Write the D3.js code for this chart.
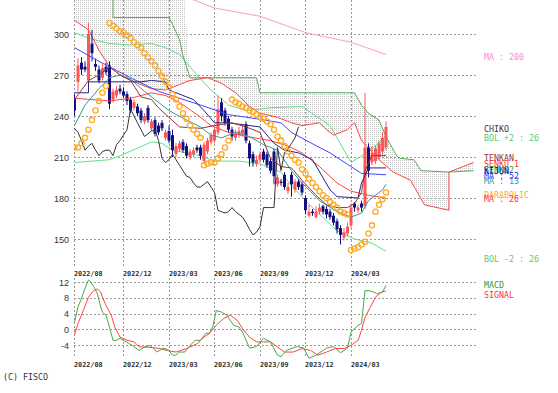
<!DOCTYPE html>
<html><head><meta charset="utf-8">
<script src="https://cdn.jsdelivr.net/npm/d3@7"></script>
<style>body{margin:0;background:#fff}svg{display:block}</style>
</head><body><svg id="c" width="558" height="393"></svg>
<script>
// ---- weekly candles ----
const openP  = [253,265,279,276,266,293,278,274,268,276, 277,252,255,260,258,256,252,246,247,244, 236,246,231,237,233,235,224,229,226,212, 216,221,218,210,212,217,217,207,214,221, 222,228,250,244,238,230,224,226,227,234, 220,212,205,208,214,212,207,214,190,192, 197,185,197,186,192,190,180,167,170,166, 170,174,172,170,167,163,158,151,154,160, 176,171,176,174,217,206,207,210,214,217];
const highP  = [256,282,283,280,308,303,282,277,278,279, 280,260,262,263,261,258,254,252,249,246, 242,248,238,239,235,237,230,233,230,220, 222,223,220,216,217,219,219,221,224,228, 232,255,253,246,240,232,230,232,234,236, 222,214,211,214,216,214,209,216,197,194, 199,191,199,194,194,192,182,175,172,174, 176,175,174,172,169,165,160,158,162,176, 177,175,178,257,220,218,218,222,228,236];
const lowP   = [240,258,270,272,262,280,273,264,266,270, 245,250,253,256,253,248,242,244,240,235, 234,235,229,225,226,229,222,220,210,210, 214,213,209,208,210,213,208,205,212,219, 220,226,236,233,228,222,222,224,225,220, 203,203,203,206,206,202,198,190,188,189, 186,183,181,184,186,182,168,166,167,165, 168,168,165,164,160,154,146,149,152,158, 170,169,170,172,195,204,205,208,212,215];
const closeP = [244,277,274,274,300,286,276,266,275,272, 249,258,259,258,255,251,244,250,242,237, 240,237,236,227,228,231,228,222,215,218, 220,215,211,214,215,215,211,219,222,226, 230,245,240,235,230,225,227,229,230,222, 209,206,208,212,208,204,200,196,195,191, 188,188,190,192,188,184,171,170,169,170, 173,170,168,166,162,157,153,155,159,173, 173,173,173,217,200,213,216,220,224,232];
const chikoShift = 25;

// ---- indicator lines: [week, value] ----
const ma200 = [[28,330],[33,326],[40,319],[53,313],[66,301],[79,294],[89,285]];
const ma52  = [[0,290],[7,280],[16,268],[24,258],[36,248],[44,241],[52,238],[59,235],[62,228],[67,221],[73,213],[79,203],[82,198],[89,197]];
const ma26  = [[0,253],[10,251],[16,253],[22,257],[26,255],[30,250],[35,241],[39,233],[44,228],[49,225],[56,222],[61,218],[65,213],[70,203],[75,191],[79,185],[84,182],[89,180]];
const ma13  = [[0,233],[3,248],[7,260],[10,268],[13,270],[16,267],[20,258],[24,250],[27,244],[32,237],[36,232],[39,226],[42,224],[46,228],[50,225],[54,219],[58,215],[62,200],[65,191],[70,178],[75,170],[79,166],[82,169],[84,178],[88,186],[89,190]];
const bolUp = [[0,301],[4,297],[10,293],[16,292],[22,293],[26,290],[30,285],[35,270],[39,259],[44,248],[49,244],[56,246],[65,247],[73,233],[79,206],[84,214],[89,225]];
const bolDn = [[0,206],[10,208],[14,212],[22,221],[25,220],[28,215],[36,211],[40,207],[47,207],[53,205],[59,199],[62,189],[68,173],[75,156],[80,150],[85,147],[89,141]];
const tenkan = [[0,252],[4,266],[7,270],[10,276],[13,270],[16,266],[19,254],[22,252],[24,246],[30,232],[36,231],[40,233],[45,235],[49,232],[53,228],[56,209],[59,203],[62,202],[65,193],[69,182],[72,175],[75,173],[78,173],[80,176],[82,184],[83,200],[85,211],[89,211]];
const kijun = [[0,257],[4,257],[4,265],[19,265],[22,266],[26,265],[27,259],[32,254],[34,252],[37,244],[40,235],[44,235],[53,232],[57,220],[60,215],[64,213],[68,208],[73,186],[75,181],[81,180],[82,191],[84,202],[89,202]];
const senko1 = [[0,310],[4,303],[7,288],[10,276],[13,270],[18,264],[22,260],[26,259],[30,263],[33,266],[38,268],[42,264],[46,257],[50,247],[53,242],[58,239],[62,235],[65,233],[70,235],[72,230],[74,226],[78,230],[80,235],[82,222],[87,208],[91,199],[96,193],[100,175],[107,171],[107,199],[110,202],[114,206]];
const senko2 = [[0,335],[11,335],[11,312],[27,312],[28,307],[30,296],[31,284],[33,268],[52,268],[53,257],[80,257],[82,248],[84,242],[87,237],[89,225],[92,211],[93,209],[97,208],[99,200],[107,199],[114,200]];
const parabolic = [217,217,220,224,230,237,244,251,257,262, 308,306,304,302,301,299,297,294,292,290, 286,283,280,277,273,269,265,261,256,252, 247,242,238,233,230,227,224, 204,205,206,206,209,212,217,222, 252,250,249,247,246,244,243,241,239,238, 236,234,230,225,222,218,214,211,208,206, 201,198,194,191,188,185,182,180,177,175, 173,170,169,168, 142,143,144,146,148,154,160,170,175,179,184];
const macd = [[0,1.9],[1,5.7],[2,7.9],[2.5,9.2],[3,10.5],[4,12.6],[4.5,12.2],[5.5,10.9],[6.5,9.2],[7.5,5.7],[8,4.4],[9,3.6],[10,0.6],[11,-2.8],[12,-2.8],[13,-2.3],[14,-2.8],[15.5,-3.6],[16.5,-4.1],[18.5,-5.4],[20,-4.5],[21.5,-4.1],[22.5,-4.8],[23.5,-5.8],[25.5,-4.8],[27,-5.4],[28,-6.6],[29,-6.6],[30,-5.8],[31.5,-5.8],[33,-4.1],[34.5,-2.8],[36,-2.8],[37.5,-1.0],[38.5,-1.0],[39.5,0.6],[40.5,4.8],[42,4.4],[43.5,3.6],[45.5,1.0],[47,0.6],[48,-0.7],[50,-4.8],[52,-4.4],[54,-2.3],[56,-3.2],[58,-6.6],[59,-7.0],[60.5,-5.4],[63.5,-4.4],[65.5,-4.8],[67,-7.4],[69,-6.6],[72,-4.8],[74,-4.4],[76,-6.0],[78,-4.8],[79,-0.7],[81,1.0],[82,1.5],[83,9.9],[84.5,9.8],[86.5,9.1],[88,9.5],[89,11.2]];
const signal = [[0,-1.5],[1,1.5],[2.5,4.8],[4,8.2],[5.5,9.9],[6.5,10.3],[7.5,9.5],[8,8.2],[9,6.1],[10.5,3.6],[11.5,0.6],[13,-2.0],[15,-2.8],[17,-3.2],[18.5,-4.5],[21.5,-4.6],[24.5,-4.9],[26.5,-5.4],[29,-5.8],[32,-4.9],[35,-3.7],[37,-2.0],[38.5,-1.1],[40.5,1.0],[42.5,2.7],[44.5,3.6],[46.5,2.3],[48,0.2],[50,-2.0],[52,-3.2],[54,-3.2],[56,-3.2],[58,-4.5],[60,-5.8],[62.5,-5.8],[65,-4.9],[67.5,-5.4],[69.5,-6.6],[72,-5.8],[74.5,-4.9],[77,-4.9],[79,-4.1],[81,-2.8],[82,-0.3],[83,3.1],[84.5,5.6],[86,8.2],[87.5,9.4],[88.5,9.7],[89,9.8]];

// ---- axes ----
const priceTicks = [150,180,210,240,270,300];
const macdTicks = [-4,0,4,8,12];
const monthLabels = ["2022/08","2022/12","2023/03","2023/06","2023/09","2023/12","2024/03"];
const monthWeeks = [0,14,27,40,53,66,79];

const legendItems = [
  ["MA : 200","#ff88cc",60],["CHIKO","#333333",132],["BOL +2 : 26","#55cc77",140.5],
  ["TENKAN","#993333",161],["SENKO 1","#ff3333",166.5],["SENKO2","#339933",173],["KIJUN","#000099",173.5],
  ["MA : 52","#3333ff",178.5],["MA : 13","#339999",183.5],["PARABOLIC","#ffaa33",198],["MA : 26","#ff3333",201.5],
  ["BOL -2 : 26","#55cc77",261.5],["MACD","#339933",288],["SIGNAL","#ff3333",298]
];

const svg = d3.select("#c");
const x = d3.scaleLinear().domain([0,114]).range([74.5,473.5]);
const y = d3.scaleLinear().domain([150,300]).range([239,34]);
const ym = d3.scaleLinear().domain([-4,12]).range([345,282.3]);
const gridX0 = 74, gridX1 = 476;

const defs = svg.append("defs");
defs.append("clipPath").attr("id","cm").append("rect").attr("x",74).attr("y",0).attr("width",402).attr("height",266);
defs.append("clipPath").attr("id","cd").append("rect").attr("x",74).attr("y",276).attr("width",402).attr("height",84);
const pat = defs.append("pattern").attr("id","hatch").attr("patternUnits","userSpaceOnUse").attr("width",2).attr("height",2);
pat.append("rect").attr("x",0).attr("y",0).attr("width",1).attr("height",1).attr("fill","#c4c4c4");

const grid = svg.append("g").attr("stroke","#999").attr("stroke-dasharray","2,2").attr("stroke-width",1);
priceTicks.forEach(v=>{ const yy=Math.round(y(v))+0.5; grid.append("line").attr("x1",gridX0).attr("x2",gridX1).attr("y1",yy).attr("y2",yy); });
macdTicks.forEach(v=>{ const yy=Math.round(ym(v))+0.5; grid.append("line").attr("x1",gridX0).attr("x2",gridX1).attr("y1",yy).attr("y2",yy); });
monthWeeks.forEach(w=>{ const xx=Math.floor(x(w))+0.5;
  grid.append("line").attr("x1",xx).attr("x2",xx).attr("y1",0).attr("y2",267);
  grid.append("line").attr("x1",xx).attr("x2",xx).attr("y1",278).attr("y2",358); });

// axis labels
const yl = svg.append("g").attr("font-family","Liberation Sans, Arial, sans-serif").attr("font-size",9).attr("fill","#333").attr("text-anchor","end");
priceTicks.forEach(v=> yl.append("text").attr("x",69).attr("y",y(v)+3.5).text(v));
macdTicks.forEach(v=> yl.append("text").attr("x",69).attr("y",ym(v)+3.5).text(v));
const xl = svg.append("g").attr("font-family","DejaVu Sans Mono, monospace").attr("font-size",6.8).attr("font-weight","bold").attr("fill","#333");
monthWeeks.forEach((w,k)=>{
  xl.append("text").attr("x",Math.floor(x(w))).attr("y",275.5).text(monthLabels[k]);
  xl.append("text").attr("x",Math.floor(x(w))).attr("y",366.5).text(monthLabels[k]);
});

const main = svg.append("g").attr("clip-path","url(#cm)");
const line = d3.line().x(d=>x(d[0])).y(d=>y(d[1]));

// cloud: hatched between senko1 and senko2 (left part reaches above the panel top)
const hatchTop = senko2.map(d => [d[0], d[0] < 33 ? 340 : d[1]]);
main.append("path").attr("d", line([...senko1, ...hatchTop.slice().reverse()]) + "Z")
  .attr("fill","url(#hatch)").attr("fill-rule","evenodd").attr("stroke","none");

function drawLine(data,color,w){ main.append("path").attr("d",line(data)).attr("fill","none").attr("stroke",color).attr("stroke-width",w||1); }
drawLine(bolUp,"#66dd88"); drawLine(bolDn,"#66dd88");
drawLine(senko2,"#55aa55"); drawLine(senko1,"#ff4444");
drawLine(ma200,"#ff99cc");

// candles
const idx = d3.range(closeP.length);
const col = i => closeP[i]>openP[i] ? "#ff5555" : (closeP[i]<openP[i] ? "#101080" : "#2d6a2d");
const cg = main.append("g");
cg.selectAll("line.w").data(idx).join("line").attr("x1",i=>x(i)).attr("x2",i=>x(i))
  .attr("y1",i=>y(highP[i])).attr("y2",i=>y(lowP[i])).attr("stroke",col).attr("stroke-width",1);
cg.selectAll("rect").data(idx).join("rect").attr("x",i=>x(i)-1.5).attr("width",3)
  .attr("y",i=>y(Math.max(openP[i],closeP[i]))).attr("height",i=>Math.max(1,Math.abs(y(openP[i])-y(closeP[i])))).attr("fill",col);

drawLine(ma26,"#ff4444"); drawLine(ma52,"#4444ff"); drawLine(ma13,"#339999");
drawLine(kijun,"#222288"); drawLine(tenkan,"#993333");
drawLine(closeP.slice(chikoShift).map((c,k)=>[k,c]),"#333333");

main.selectAll("circle").data(parabolic).join("circle").attr("cx",(d,i)=>x(i)).attr("cy",d=>y(d)).attr("r",2.6)
  .attr("fill","none").attr("stroke","#ffaa22").attr("stroke-width",1.3);

// MACD
const md = svg.append("g").attr("clip-path","url(#cd)");
const mline = d3.line().x(d=>x(d[0])).y(d=>ym(d[1]));
md.append("path").attr("d",mline(signal)).attr("fill","none").attr("stroke","#ff4444");
md.append("path").attr("d",mline(macd)).attr("fill","none").attr("stroke","#44aa44");

// legend
const lg = svg.append("g").attr("font-family","DejaVu Sans Mono, monospace").attr("font-size",8.3);
legendItems.forEach(d=> lg.append("text").attr("x",484).attr("y",d[2]).attr("fill",d[1]).text(d[0]));
svg.append("text").attr("x",3).attr("y",380).attr("font-family","DejaVu Sans Mono, monospace").attr("font-size",8.3).attr("fill","#333").text("(C) FISCO");
</script></body></html>
